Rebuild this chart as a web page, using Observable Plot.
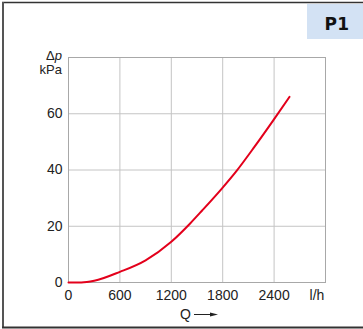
<!DOCTYPE html>
<html>
<head>
<meta charset="utf-8">
<script src="https://cdn.jsdelivr.net/npm/d3@7"></script>
<script src="https://cdn.jsdelivr.net/npm/@observablehq/plot@0.6"></script>
<style>
  html, body { margin: 0; padding: 0; background: #fff; }
  #chart svg { display: block; }
</style>
</head>
<body>
<div id="chart"></div>
<script>
// Data
const flowQ = [0, 150, 300, 600, 900, 1200, 1420, 1560, 1790, 1960, 2170, 2380, 2580];
const pressureDrop = [0, 0, 0.6, 3.8, 7.9, 14.5, 21.0, 25.6, 33.4, 39.6, 48.2, 57.2, 66.0];
const xTicks = [0, 600, 1200, 1800, 2400];
const yTicks = [0, 20, 40, 60];
const xGrid = [0, 600, 1200, 1800, 2400, 3000];
const yGrid = [0, 20, 40, 60, 80];
const xUnit = "l/h";
const xName = "Q";
const yName = "Δ";
const yNameItalic = "p";
const yUnit = "kPa";
const badge = "P1";

const curve = flowQ.map((q, i) => ({ q, dp: pressureDrop[i] }));

const W = 363, H = 329;
const font = "'Liberation Sans', Arial, sans-serif";

const plot = Plot.plot({
  width: W,
  height: H,
  marginLeft: 68,
  marginRight: 38,
  marginTop: 57,
  marginBottom: 47,
  style: { fontFamily: font, fontSize: "14px", color: "#222", background: "#fff" },
  x: { domain: [0, 3000] },
  y: { domain: [0, 80] },
  marks: [
    Plot.ruleX(xGrid, { stroke: "#c4c4c4", strokeWidth: 1 }),
    Plot.ruleY(yGrid, { stroke: "#c4c4c4", strokeWidth: 1 }),
    Plot.frame({ stroke: "#a8a8a8", strokeWidth: 1 }),
    Plot.axisX(xTicks, { tickSize: 0, tickPadding: 8, label: null, fill: "#222", fontSize: 14, tickFormat: d => String(d) }),
    Plot.axisY(yTicks, { tickSize: 0, tickPadding: 6, label: null, fill: "#222", fontSize: 14, tickFormat: d => String(d) }),
    Plot.line(curve, { x: "q", y: "dp", stroke: "#e3001b", strokeWidth: 2, curve: "monotone-x" })
  ]
});

document.getElementById("chart").appendChild(plot);

const svg = d3.select(plot);
const ns = svg.append("g");

// Outer frame (top, left, bottom; right edge cropped)
ns.append("line").attr("x1", 2).attr("x2", W).attr("y1", 2.5).attr("y2", 2.5)
  .attr("stroke", "#333").attr("stroke-width", 1.5);
ns.append("line").attr("x1", 3).attr("x2", 3).attr("y1", 2).attr("y2", 328)
  .attr("stroke", "#555").attr("stroke-width", 2);
ns.append("line").attr("x1", 2).attr("x2", W).attr("y1", 327.5).attr("y2", 327.5)
  .attr("stroke", "#333").attr("stroke-width", 2);

// Badge
ns.append("rect").attr("x", 307).attr("y", 4).attr("width", 56).attr("height", 35)
  .attr("fill", "#d3e2f4");
ns.append("text").attr("x", 337).attr("y", 29.5).attr("text-anchor", "middle")
  .attr("font-family", "'DejaVu Sans', sans-serif").attr("font-weight", "bold")
  .attr("font-size", 17).attr("letter-spacing", 0.3).attr("fill", "#111").text(badge);

// Y axis label
const yl = ns.append("text").attr("x", 62).attr("y", 60).attr("text-anchor", "end")
  .attr("font-family", font).attr("font-size", 13).attr("fill", "#222");
yl.append("tspan").text(yName);
yl.append("tspan").attr("font-style", "italic").text(yNameItalic);
ns.append("text").attr("x", 62).attr("y", 73.5).attr("text-anchor", "end")
  .attr("font-family", font).attr("font-size", 13).attr("fill", "#222").text(yUnit);

// X unit
ns.append("text").attr("x", 317).attr("y", 300).attr("text-anchor", "middle")
  .attr("font-family", font).attr("font-size", 14).attr("fill", "#222").text(xUnit);

// Q with arrow
ns.append("text").attr("x", 185.5).attr("y", 319).attr("text-anchor", "middle")
  .attr("font-family", font).attr("font-size", 14).attr("fill", "#222").text(xName);
ns.append("line").attr("x1", 194).attr("x2", 211).attr("y1", 314.5).attr("y2", 314.5)
  .attr("stroke", "#222").attr("stroke-width", 1);
ns.append("path").attr("d", "M210,312.5 L218,314.5 L210,316.5 Z").attr("fill", "#222");
</script>
</body>
</html>
